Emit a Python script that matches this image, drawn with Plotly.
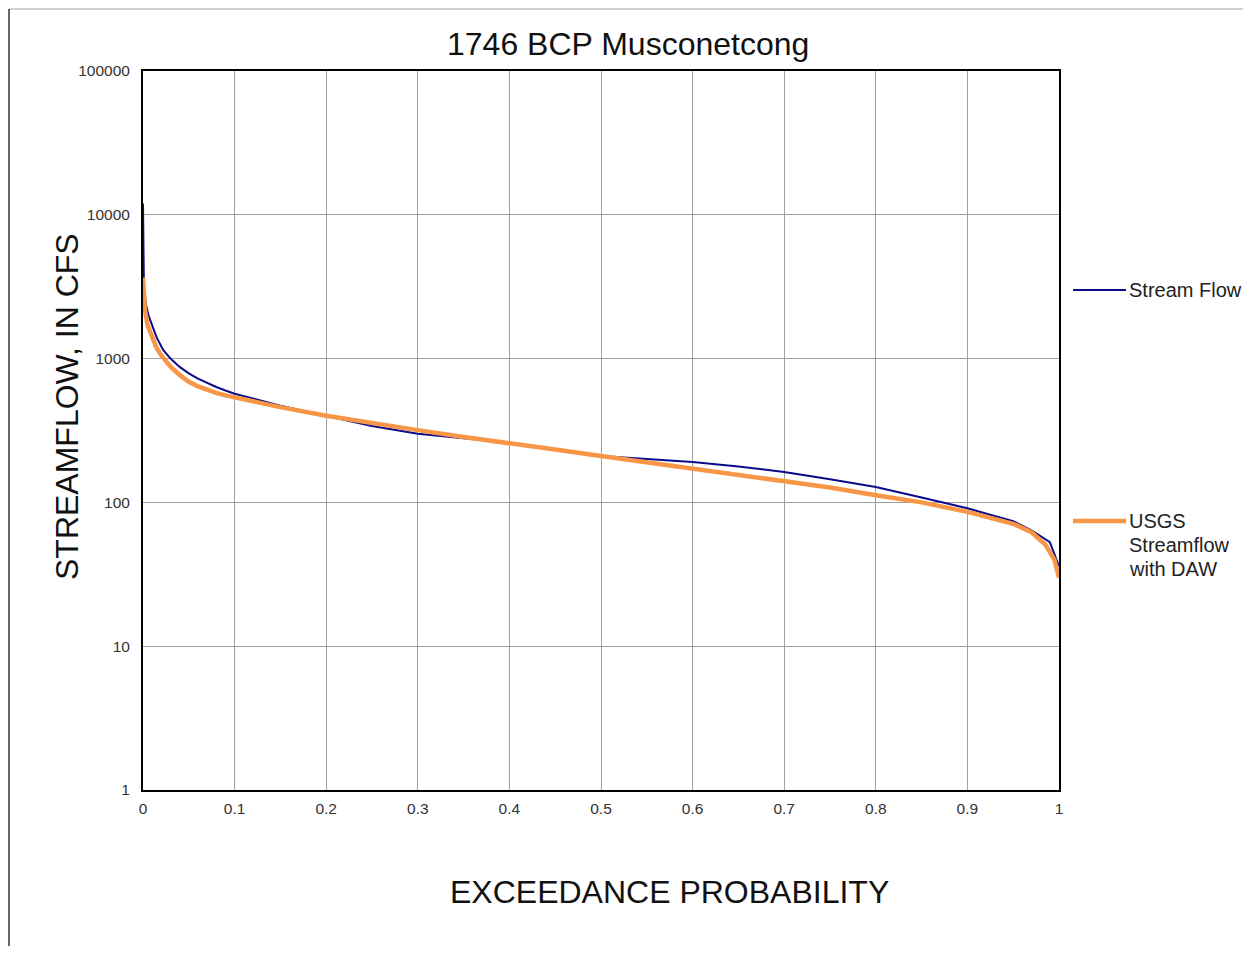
import plotly.graph_objects as go

# Stream Flow (modelled)
sf_x = [0.0, 0.001, 0.003, 0.006, 0.01, 0.015, 0.022, 0.03, 0.04, 0.05, 0.06, 0.07, 0.08, 0.09, 0.1,
        0.15, 0.2, 0.25, 0.3, 0.35, 0.4, 0.45, 0.5, 0.55, 0.6, 0.65, 0.7, 0.75, 0.8, 0.85, 0.9,
        0.95, 0.97, 0.99, 1.0]
sf_y = [12000, 3200, 2400, 2000, 1700, 1400, 1150, 1000, 875, 790, 725, 675, 635, 600, 570,
        470, 400, 340, 300, 280, 260, 232, 210, 200, 191, 178, 163, 145, 128, 108, 91,
        74, 64, 53, 36]

# USGS Streamflow with DAW
ug_x = [0.0, 0.002, 0.005, 0.01, 0.015, 0.02, 0.03, 0.04, 0.05, 0.06, 0.07, 0.08, 0.09, 0.1,
        0.15, 0.2, 0.25, 0.3, 0.35, 0.4, 0.45, 0.5, 0.55, 0.6, 0.65, 0.7, 0.75, 0.8, 0.85, 0.9,
        0.95, 0.97, 0.985, 0.995, 1.0]
ug_y = [3650, 2200, 1700, 1380, 1180, 1050, 880, 770, 690, 640, 605, 578, 555, 537,
        460, 400, 355, 318, 285, 260, 233, 210, 190, 173, 157, 141, 127, 112, 100, 86,
        71, 62, 51, 40, 30]

x_ticks = [0, 0.1, 0.2, 0.3, 0.4, 0.5, 0.6, 0.7, 0.8, 0.9, 1]
x_tick_labels = ["0", "0.1", "0.2", "0.3", "0.4", "0.5", "0.6", "0.7", "0.8", "0.9", "1"]
y_ticks = [1, 10, 100, 1000, 10000, 100000]
y_tick_labels = ["1", "10", "100", "1000", "10000", "100000"]

BLUE = "#0B0B8A"
ORANGE = "#F79646"
FONT = "Liberation Sans, Arial, sans-serif"

fig = go.Figure()
fig.add_trace(go.Scatter(x=sf_x, y=sf_y, mode="lines", name="Stream Flow",
                         line=dict(color=BLUE, width=2), showlegend=False))
fig.add_trace(go.Scatter(x=ug_x, y=ug_y, mode="lines", name="USGS Streamflow with DAW",
                         line=dict(color=ORANGE, width=4.5), showlegend=False))

OFF = 8  # page body margin
W, H = 1251 - OFF, 954 - 2 * OFF
L, R, T, B = 143, 1059, 71, 790  # target page pixel positions of plot area

def px(xp):
    return (xp - L) / (R - L)

def py(yp):
    return (B - yp) / (B - T)

fig.update_layout(
    width=W, height=H,
    margin=dict(l=L - OFF, r=W - (R - OFF), t=T - OFF, b=H - (B - OFF)),
    paper_bgcolor="white", plot_bgcolor="white",
    font=dict(family=FONT, color="#222"),
    showlegend=False,
)
fig.update_xaxes(range=[0, 1], tickvals=x_ticks, ticktext=x_tick_labels,
                 showgrid=True, gridcolor="#A0A0A0", gridwidth=1,
                 showline=True, linecolor="black", linewidth=2, mirror=True,
                 ticks="", ticklabelstandoff=3,
                 tickfont=dict(size=15.5, family=FONT, color="#333"), zeroline=False)
fig.update_yaxes(type="log", range=[0, 5], tickvals=y_ticks, ticktext=y_tick_labels,
                 showgrid=True, gridcolor="#A0A0A0", gridwidth=1,
                 showline=True, linecolor="black", linewidth=2, mirror=True,
                 ticks="", ticklabelstandoff=8,
                 tickfont=dict(size=15.5, family=FONT, color="#333"), zeroline=False)

ann = [
    dict(text="1746 BCP Musconetcong", x=px(628), y=py(44), font=dict(size=32, color="#111")),
    dict(text="EXCEEDANCE PROBABILITY", x=px(669), y=py(892), font=dict(size=32, color="#111")),
    dict(text="STREAMFLOW, IN CFS", x=px(67), y=py(407), textangle=-90, font=dict(size=32, color="#111")),
]
annotations = []
for a in ann:
    annotations.append(dict(xref="paper", yref="paper", showarrow=False,
                            xanchor="center", yanchor="middle", **a))
legend_lines = [("Stream Flow", 290), ("USGS", 521), ("Streamflow", 545), ("with DAW", 569)]
for txt, yy in legend_lines:
    annotations.append(dict(xref="paper", yref="paper", showarrow=False, x=px(1127), y=py(yy),
                            xanchor="left", yanchor="middle", text=txt,
                            font=dict(size=20, color="#222")))
fig.update_layout(annotations=annotations)

shapes = [
    dict(type="line", xref="paper", yref="paper", x0=px(1073), x1=px(1126), y0=py(290), y1=py(290),
         line=dict(color=BLUE, width=2)),
    dict(type="line", xref="paper", yref="paper", x0=px(1073), x1=px(1126), y0=py(521), y1=py(521),
         line=dict(color=ORANGE, width=4.5)),
    dict(type="line", xref="paper", yref="paper", x0=px(9), x1=px(1300), y0=py(9), y1=py(9),
         line=dict(color="#A0A0A0", width=1)),
    dict(type="line", xref="paper", yref="paper", x0=px(9), x1=px(9), y0=py(9), y1=py(1000),
         line=dict(color="#333", width=1.5)),
]
fig.update_layout(shapes=shapes)

fig.write_html("out.html")
